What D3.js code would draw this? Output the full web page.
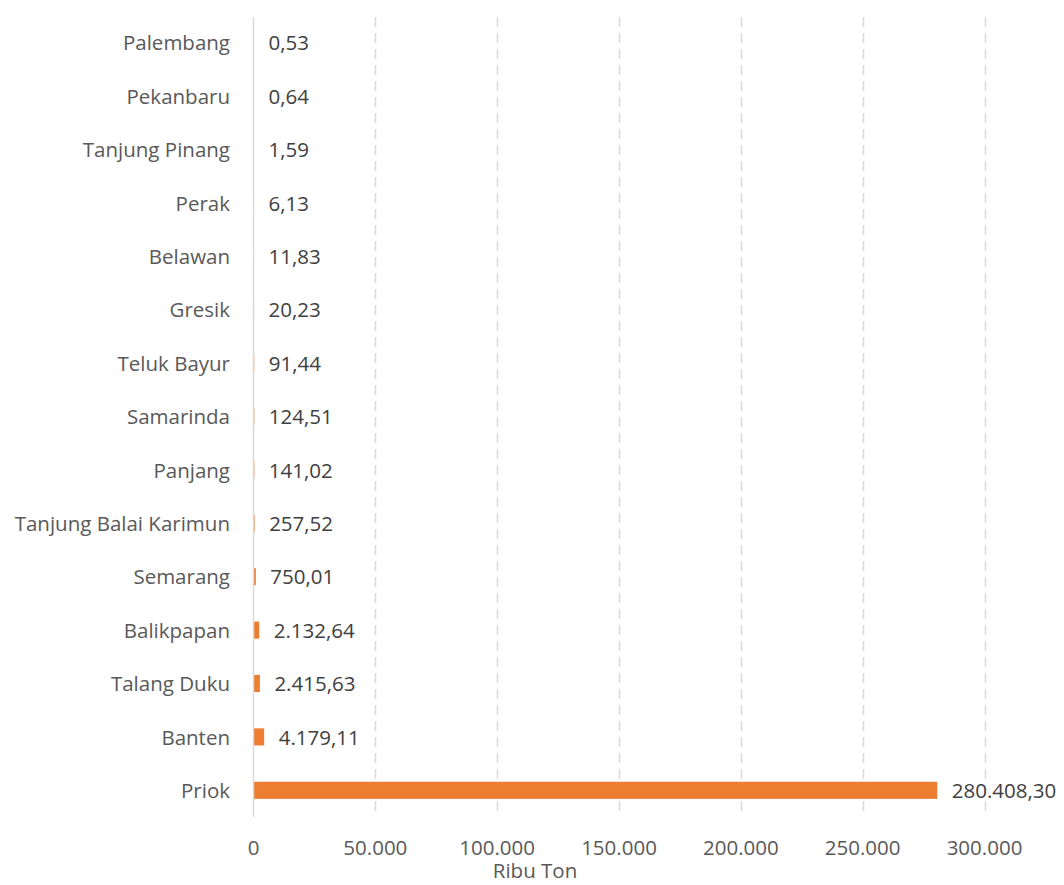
<!DOCTYPE html>
<html><head><meta charset="utf-8">
<script src="https://cdn.jsdelivr.net/npm/d3@7"></script>
<style>body{margin:0;background:#fff}</style>
</head><body>
<svg id="c" width="1064" height="885"></svg>
<script>
const categories = ["Palembang","Pekanbaru","Tanjung Pinang","Perak","Belawan","Gresik","Teluk Bayur","Samarinda","Panjang","Tanjung Balai Karimun","Semarang","Balikpapan","Talang Duku","Banten","Priok"];
const values = [0.53,0.64,1.59,6.13,11.83,20.23,91.44,124.51,141.02,257.52,750.01,2132.64,2415.63,4179.11,280408.30];
const valueLabels = ["0,53","0,64","1,59","6,13","11,83","20,23","91,44","124,51","141,02","257,52","750,01","2.132,64","2.415,63","4.179,11","280.408,30"];
const tickValues = [0,50000,100000,150000,200000,250000,300000];
const tickLabels = ["0","50.000","100.000","150.000","200.000","250.000","300.000"];
const axisTitle = "Ribu Ton";

const font = "'Open Sans', sans-serif";
const fs = 20.5;
const svg = d3.select("#c");
const x = d3.scaleLinear().domain([0,300000]).range([253.5,984.5]);
const y = d3.scaleBand().domain(categories).range([16,817]).paddingInner(0.68).paddingOuter(0.34);

// gridlines
svg.append("g").selectAll("line").data(tickValues.slice(1)).join("line")
  .attr("x1",d=>Math.round(x(d))+0.5).attr("x2",d=>Math.round(x(d))+0.5)
  .attr("y1",17).attr("y2",817)
  .attr("stroke","#d9d9d9").attr("stroke-width",1.5).attr("stroke-dasharray","10,6");

// bars
svg.append("g").selectAll("rect").data(values).join("rect")
  .attr("x",x(0)+0.5).attr("y",(d,i)=>y(categories[i]))
  .attr("width",d=>x(d)-x(0)).attr("height",y.bandwidth())
  .attr("fill","#ED7D31");

// axis line
svg.append("line").attr("x1",x(0)).attr("x2",x(0)).attr("y1",17).attr("y2",817)
  .attr("stroke","#d9d9d9").attr("stroke-width",1.5);

// category labels
svg.append("g").selectAll("text").data(categories).join("text")
  .attr("x",230).attr("y",d=>y(d)+y.bandwidth()/2).attr("dy","0.38em")
  .attr("text-anchor","end").attr("font-family",font).attr("font-size",fs)
  .attr("fill","#595959").text(d=>d);

// value labels
svg.append("g").selectAll("text").data(values).join("text")
  .attr("x",d=>x(d)+15).attr("y",(d,i)=>y(categories[i])+y.bandwidth()/2).attr("dy","0.38em")
  .attr("font-family",font).attr("font-size",fs).attr("fill","#404040")
  .text((d,i)=>valueLabels[i]);

// x tick labels
svg.append("g").selectAll("text").data(tickValues).join("text")
  .attr("x",d=>x(d)).attr("y",855).attr("text-anchor","middle")
  .attr("font-family",font).attr("font-size",fs).attr("fill","#595959")
  .text((d,i)=>tickLabels[i]);

svg.append("text").attr("x",535).attr("y",878).attr("text-anchor","middle")
  .attr("font-family",font).attr("font-size",fs).attr("fill","#595959").text(axisTitle);
</script>
</body></html>
